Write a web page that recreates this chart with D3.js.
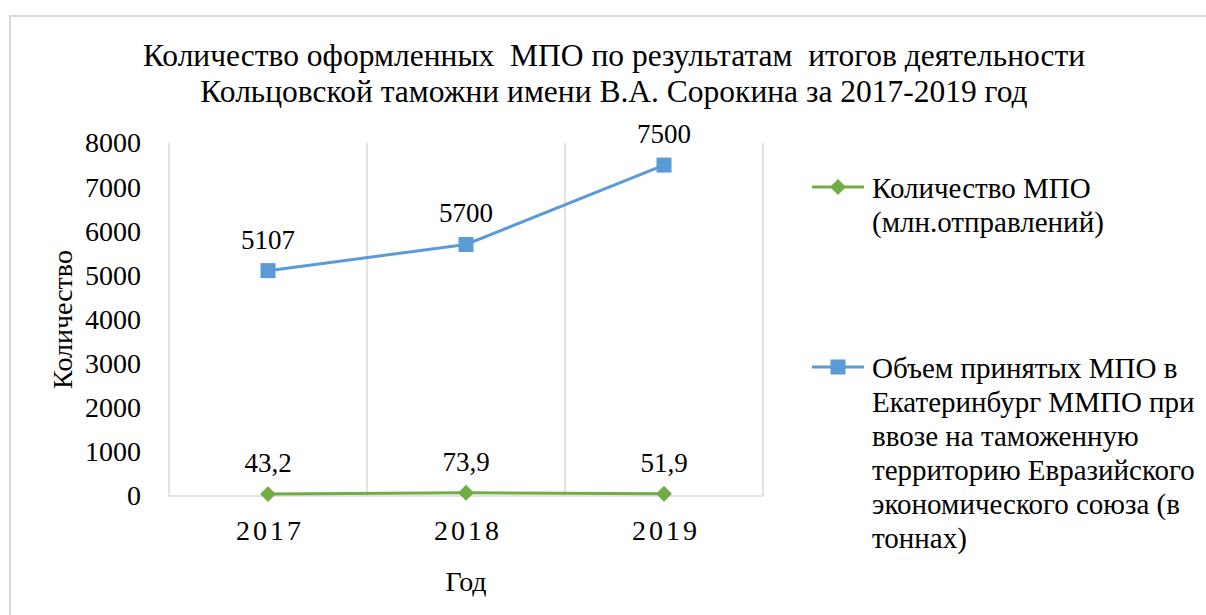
<!DOCTYPE html>
<html>
<head>
<meta charset="utf-8">
<script src="https://cdn.jsdelivr.net/npm/d3@7"></script>
<style>
  body { margin: 0; background: #fff; }
  svg { display: block; font-family: 'Liberation Serif', 'Times New Roman', serif; }
  .grid line { stroke: #d9d9d9; stroke-width: 1.5; }
  .axis path, .axis line { display: none; }
  .axis text { fill: #000; font-family: 'Liberation Serif', 'Times New Roman', serif; }
</style>
</head>
<body>
<svg id="chart"></svg>
<script>
const years = ['2017', '2018', '2019'];
const mpoCount = [43.2, 73.9, 51.9];
const mpoCountLabels = ['43,2', '73,9', '51,9'];
const mpoVolume = [5107, 5700, 7500];
const yTicks = [0, 1000, 2000, 3000, 4000, 5000, 6000, 7000, 8000];
const titleLines = [
  'Количество оформленных  МПО по результатам  итогов деятельности',
  'Кольцовской таможни имени В.А. Сорокина за 2017-2019 год'
];
const countLegend = ['Количество МПО', '(млн.отправлений)'];
const volumeLegend = [
  'Объем принятых МПО в',
  'Екатеринбург ММПО при',
  'ввозе на таможенную',
  'территорию Евразийского',
  'экономического союза (в',
  'тоннах)'
];

const fullWidth = 1206;
const fullHeight = 615;
const margin = { top: 143, right: 443, bottom: 119, left: 169 };
const width = fullWidth - margin.left - margin.right;
const height = fullHeight - margin.top - margin.bottom;

const green = '#70ad47';
const blue = '#5b9bd5';

const svg = d3.select('#chart')
    .attr('width', fullWidth)
    .attr('height', fullHeight);

// chart frame
svg.append('rect')
    .attr('x', 10)
    .attr('y', 16)
    .attr('width', 1210)
    .attr('height', 620)
    .attr('fill', '#fff')
    .attr('stroke', '#d9d9d9')
    .attr('stroke-width', 2);

// title
svg.append('text')
    .attr('text-anchor', 'middle')
    .style('font-size', '31.5px')
  .selectAll('tspan')
  .data(titleLines)
  .enter().append('tspan')
    .attr('x', 614)
    .attr('y', (d, i) => 66 + i * 36)
    .style('white-space', 'pre')
    .text(d => d);

const g = svg.append('g')
    .attr('transform', `translate(${margin.left}, ${margin.top})`);

const x = d3.scalePoint()
    .domain(years)
    .range([0, width])
    .padding(0.5);

const band = d3.scaleBand()
    .domain(years)
    .range([0, width]);

const y = d3.scaleLinear()
    .domain([0, 8000])
    .range([height, 0]);

// vertical gridlines on category boundaries
const bounds = years.map(d => band(d)).concat([width]);
g.append('g')
    .attr('class', 'grid')
  .selectAll('line')
  .data(bounds)
  .enter().append('line')
    .attr('x1', d => d)
    .attr('x2', d => d)
    .attr('y1', 0)
    .attr('y2', height);

g.append('line')
    .attr('x1', 0)
    .attr('x2', width)
    .attr('y1', y(0))
    .attr('y2', y(0))
    .attr('stroke', '#d9d9d9')
    .attr('stroke-width', 1.5);

// axes
g.append('g')
    .attr('class', 'axis')
    .attr('font-family', null)
    .call(d3.axisLeft(y)
      .tickValues(yTicks)
      .tickFormat(d3.format('d'))
      .tickSize(0)
      .tickPadding(28))
    .selectAll('text')
      .style('font-size', '28px');

g.append('g')
    .attr('class', 'axis')
    .attr('transform', `translate(0, ${height})`)
    .call(d3.axisBottom(x).tickSize(0).tickPadding(24))
    .selectAll('text')
      .attr('dx', 1.5)
      .style('font-size', '28px')
      .style('letter-spacing', '3px');

// axis titles
g.append('text')
    .attr('transform', `translate(-107, ${height / 2}) rotate(-90)`)
    .attr('text-anchor', 'middle')
    .attr('dy', '0.35em')
    .style('font-size', '28px')
    .text('Количество');

g.append('text')
    .attr('x', width / 2)
    .attr('y', height + 95)
    .attr('text-anchor', 'middle')
    .style('font-size', '28px')
    .text('Год');

const line = d3.line()
    .x((d, i) => x(years[i]))
    .y(d => y(d));

// series: volume (blue squares)
g.append('path')
    .datum(mpoVolume)
    .attr('fill', 'none')
    .attr('stroke', blue)
    .attr('stroke-width', 3)
    .attr('d', line);

g.selectAll('.sq')
  .data(mpoVolume)
  .enter().append('rect')
    .attr('class', 'sq')
    .attr('x', (d, i) => x(years[i]) - 7.5)
    .attr('y', d => y(d) - 7.5)
    .attr('width', 15)
    .attr('height', 15)
    .attr('fill', blue);

g.selectAll('.vlab')
  .data(mpoVolume)
  .enter().append('text')
    .attr('class', 'vlab')
    .attr('x', (d, i) => x(years[i]))
    .attr('y', d => y(d) - 22)
    .attr('text-anchor', 'middle')
    .style('font-size', '27px')
    .text(d => d);

// series: count (green diamonds)
const diamond = d3.symbol().type(d3.symbolDiamond2).size(160);

g.append('path')
    .datum(mpoCount)
    .attr('fill', 'none')
    .attr('stroke', green)
    .attr('stroke-width', 3)
    .attr('d', line);

g.selectAll('.dm')
  .data(mpoCount)
  .enter().append('path')
    .attr('class', 'dm')
    .attr('transform', (d, i) => `translate(${x(years[i])}, ${y(d)})`)
    .attr('d', diamond)
    .attr('fill', green);

g.selectAll('.clab')
  .data(mpoCount)
  .enter().append('text')
    .attr('class', 'clab')
    .attr('x', (d, i) => x(years[i]))
    .attr('y', d => y(d) - 22)
    .attr('text-anchor', 'middle')
    .style('font-size', '27px')
    .text((d, i) => mpoCountLabels[i]);

// legend
const legend = svg.append('g');
const items = [
  { color: green, lines: countLegend, y: 187, marker: 'diamond' },
  { color: blue, lines: volumeLegend, y: 367, marker: 'square' }
];

items.forEach((item) => {
  const it = legend.append('g').attr('transform', `translate(812, ${item.y})`);
  it.append('line')
      .attr('x1', 0)
      .attr('x2', 52)
      .attr('stroke', item.color)
      .attr('stroke-width', 3);
  if (item.marker === 'diamond') {
    it.append('path')
        .attr('transform', 'translate(26, 0)')
        .attr('d', diamond)
        .attr('fill', item.color);
  } else {
    it.append('rect')
        .attr('x', 18.5)
        .attr('y', -7.5)
        .attr('width', 15)
        .attr('height', 15)
        .attr('fill', item.color);
  }
  it.append('text')
      .style('font-size', '29px')
    .selectAll('tspan')
    .data(item.lines)
    .enter().append('tspan')
      .attr('x', 60)
      .attr('y', (d, i) => 11 + i * 34)
      .text(d => d);
});
</script>
</body>
</html>
